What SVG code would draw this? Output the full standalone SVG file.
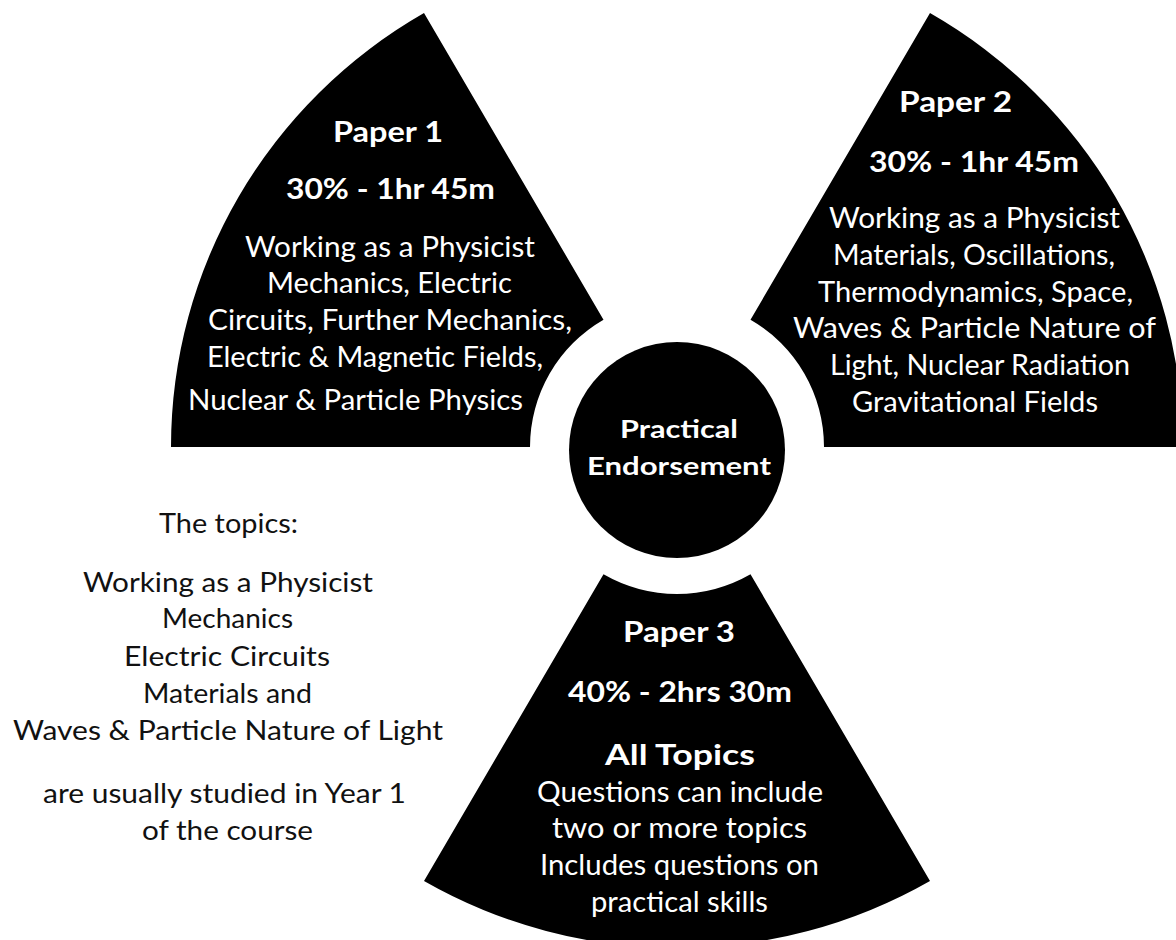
<svg xmlns="http://www.w3.org/2000/svg" width="1176" height="940" viewBox="0 0 1176 940">
  <style>
    .blade { fill: #000; }
    .hub { fill: #000; }
    text { font-family: Lato, "Open Sans", "Liberation Sans", sans-serif; text-anchor: middle; }
    .title { fill: #fff; font-weight: 700; font-size: 29px; }
    .body { fill: #fff; font-size: 28px; }
    .hubtext { fill: #fff; font-weight: 700; font-size: 25px; }
    .note { fill: #111; font-size: 27px; }
  </style>
  <rect width="1176" height="940" fill="#fff"/>

  <!-- Trefoil blades around centre (677,447): outer radius ~506x501, inner radius 147 -->
  <g id="paper1">
    <path class="blade" d="M171 447 A506 501 0 0 1 424 13.1 L603.5 319.7 A147 147 0 0 0 530 447 Z"/>
    <text class="title" x="388" y="142" textLength="110" lengthAdjust="spacingAndGlyphs">Paper 1</text>
    <text class="title" x="390.5" y="199" textLength="209" lengthAdjust="spacingAndGlyphs">30% - 1hr 45m</text>
    <text class="body" x="390" y="257" textLength="290" lengthAdjust="spacingAndGlyphs">Working as a Physicist</text>
    <text class="body" x="389.5" y="293" textLength="245" lengthAdjust="spacingAndGlyphs">Mechanics, Electric</text>
    <text class="body" x="390" y="330" textLength="364" lengthAdjust="spacingAndGlyphs">Circuits, Further Mechanics,</text>
    <text class="body" x="375" y="367" textLength="336" lengthAdjust="spacingAndGlyphs">Electric &amp; Magnetic Fields,</text>
    <text class="body" x="355.5" y="410" textLength="335" lengthAdjust="spacingAndGlyphs">Nuclear &amp; Particle Physics</text>
  </g>

  <g id="paper2">
    <path class="blade" d="M930 13.1 A506 501 0 0 1 1183 447 L824 447 A147 147 0 0 0 750.5 319.7 Z"/>
    <text class="title" x="955.5" y="112" textLength="113" lengthAdjust="spacingAndGlyphs">Paper 2</text>
    <text class="title" x="974" y="172" textLength="210" lengthAdjust="spacingAndGlyphs">30% - 1hr 45m</text>
    <text class="body" x="974.5" y="228" textLength="291" lengthAdjust="spacingAndGlyphs">Working as a Physicist</text>
    <text class="body" x="974" y="265" textLength="282" lengthAdjust="spacingAndGlyphs">Materials, Oscillations,</text>
    <text class="body" x="975.5" y="302" textLength="315" lengthAdjust="spacingAndGlyphs">Thermodynamics, Space,</text>
    <text class="body" x="974.5" y="338" textLength="363" lengthAdjust="spacingAndGlyphs">Waves &amp; Particle Nature of</text>
    <text class="body" x="980" y="375" textLength="300" lengthAdjust="spacingAndGlyphs">Light, Nuclear Radiation</text>
    <text class="body" x="975" y="412" textLength="246" lengthAdjust="spacingAndGlyphs">Gravitational Fields</text>
  </g>

  <g id="paper3">
    <path class="blade" d="M930 880.9 A506 501 0 0 1 424 880.9 L603.5 574.3 A147 147 0 0 0 750.5 574.3 Z"/>
    <text class="title" x="679" y="642" textLength="112" lengthAdjust="spacingAndGlyphs">Paper 3</text>
    <text class="title" x="680" y="702" textLength="224" lengthAdjust="spacingAndGlyphs">40% - 2hrs 30m</text>
    <text class="title" x="680" y="765" textLength="150" lengthAdjust="spacingAndGlyphs">All Topics</text>
    <text class="body" x="680" y="802" textLength="286" lengthAdjust="spacingAndGlyphs">Questions can include</text>
    <text class="body" x="679.5" y="838" textLength="255" lengthAdjust="spacingAndGlyphs">two or more topics</text>
    <text class="body" x="679.5" y="875" textLength="279" lengthAdjust="spacingAndGlyphs">Includes questions on</text>
    <text class="body" x="679.5" y="912" textLength="177" lengthAdjust="spacingAndGlyphs">practical skills</text>
  </g>

  <g id="practical-endorsement">
    <circle class="hub" cx="677" cy="450" r="108"/>
    <text class="hubtext" x="679" y="438" textLength="118" lengthAdjust="spacingAndGlyphs">Practical</text>
    <text class="hubtext" x="679" y="475" textLength="184" lengthAdjust="spacingAndGlyphs">Endorsement</text>
  </g>

  <g id="topics-note">
    <text class="note" x="228.5" y="533" textLength="139" lengthAdjust="spacingAndGlyphs">The topics:</text>
    <text class="note" x="228" y="592" textLength="290" lengthAdjust="spacingAndGlyphs">Working as a Physicist</text>
    <text class="note" x="227.5" y="628" textLength="131" lengthAdjust="spacingAndGlyphs">Mechanics</text>
    <text class="note" x="227" y="666" textLength="206" lengthAdjust="spacingAndGlyphs">Electric Circuits</text>
    <text class="note" x="227.5" y="703" textLength="169" lengthAdjust="spacingAndGlyphs">Materials and</text>
    <text class="note" x="228" y="740" textLength="430" lengthAdjust="spacingAndGlyphs">Waves &amp; Particle Nature of Light</text>
    <text class="note" x="224.5" y="803" textLength="363" lengthAdjust="spacingAndGlyphs">are usually studied in Year 1</text>
    <text class="note" x="227.5" y="840" textLength="171" lengthAdjust="spacingAndGlyphs">of the course</text>
  </g>
</svg>
